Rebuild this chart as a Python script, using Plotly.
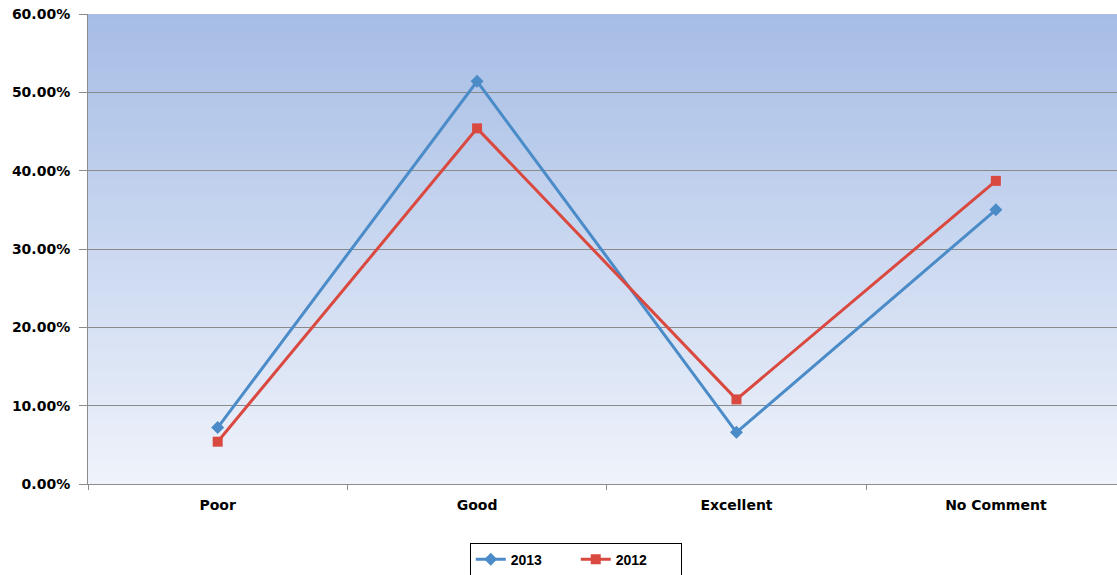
import plotly.graph_objects as go

categories = ["Poor", "Good", "Excellent", "No Comment"]
series_2013 = [0.072, 0.514, 0.066, 0.350]
series_2012 = [0.054, 0.454, 0.108, 0.387]
y_tickvals = [0, 0.1, 0.2, 0.3, 0.4, 0.5, 0.6]

BLUE = "#4a8bc8"
RED = "#d9493f"

fig = go.Figure()
fig.add_trace(go.Scatter(
    x=categories, y=series_2013, name="2013", mode="lines+markers",
    line=dict(color=BLUE, width=3),
    marker=dict(symbol="diamond", size=10, color=BLUE),
))
fig.add_trace(go.Scatter(
    x=categories, y=series_2012, name="2012", mode="lines+markers",
    line=dict(color=RED, width=3),
    marker=dict(symbol="square", size=10, color=RED),
))

# vertical gradient background
top = (166, 189, 229)
bot = (239, 243, 251)
n = 80
shapes = []
for i in range(n):
    t = i / (n - 1)
    c = tuple(round(top[k] + (bot[k] - top[k]) * t) for k in range(3))
    y1 = 1 - i / n
    y0 = 1 - (i + 1) / n
    shapes.append(dict(type="rect", xref="paper", yref="paper", x0=0, x1=1,
                       y0=y0 - 0.002, y1=y1, fillcolor="rgb(%d,%d,%d)" % c,
                       line=dict(width=0), layer="below"))

AXFONT = dict(family="DejaVu Sans, Verdana, sans-serif", size=14, weight="bold", color="black")

fig.update_layout(
    width=1117, height=575,
    margin=dict(l=88, r=0, t=14, b=91, autoexpand=False),
    paper_bgcolor="white",
    plot_bgcolor="rgba(0,0,0,0)",
    shapes=shapes,
    font=dict(family="Liberation Sans, Arial, sans-serif", size=13, color="black"),
    showlegend=True,
    legend=dict(orientation="h", x=0.474, xanchor="center", y=-0.125, yanchor="top",
                bordercolor="black", borderwidth=1, bgcolor="white",
                font=dict(size=14, family="Liberation Sans, Arial, sans-serif", weight="bold"),
                entrywidth=60, tracegroupgap=0),
)
fig.update_xaxes(
    type="category", range=[-0.5, 3.467],
    showgrid=False, showline=True, linecolor="#8c8c8c", linewidth=1,
    ticks="outside", tickson="boundaries", ticklen=5, tickcolor="#8c8c8c",
    ticklabelstandoff=8,
    tickfont=AXFONT, automargin=False,
)
fig.update_yaxes(
    range=[0, 0.6], tickvals=y_tickvals, tickformat=".2%",
    showgrid=True, gridcolor="#8a8a8a", gridwidth=1,
    showline=True, linecolor="#8c8c8c", linewidth=1,
    ticks="outside", ticklen=8, tickcolor="#8c8c8c", ticklabelstandoff=6,
    tickfont=AXFONT, zeroline=False, automargin=False,
)

fig.write_html(
    "out.html",
    config={"displayModeBar": False},
    post_script="document.body.style.margin='0';document.body.style.overflow='hidden';",
)
